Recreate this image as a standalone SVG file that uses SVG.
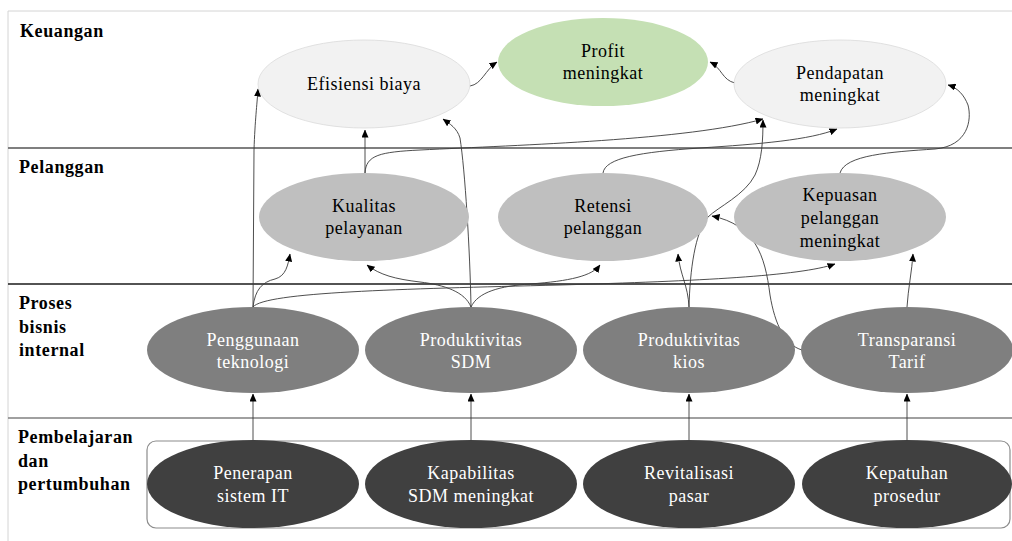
<svg xmlns="http://www.w3.org/2000/svg" width="1012" height="541" viewBox="0 0 1012 541">
<defs>
<marker id="ah" viewBox="0 0 8 7" refX="7.5" refY="3.5" markerWidth="8" markerHeight="7" markerUnits="userSpaceOnUse" orient="auto">
<path d="M0,0 L8,3.5 L0,7 z" fill="#000"/>
</marker>
<style>
.lbl{font-size:18px;font-weight:bold;fill:#000;letter-spacing:0.6px}
.t{font-size:18px;text-anchor:middle;letter-spacing:0.5px}
.dk{fill:#000}
.wt{fill:#fff}
.k{fill:#f2f2f2;stroke:#dadada;stroke-width:0.8}
.g{fill:#c5e0b4}
.p{fill:#bfbfbf}
.b{fill:#7f7f7f}
.l{fill:#404040}
.c{fill:none;stroke:#3a3a3a;stroke-width:0.9;marker-end:url(#ah)}
</style>
</defs>
<rect width="1012" height="541" fill="#fff"/>
<g id="frame" fill="none">
<line x1="8" y1="11" x2="1012" y2="11" stroke="#d4d4d4" stroke-width="1"/>
<line x1="8" y1="11" x2="8" y2="541" stroke="#d4d4d4" stroke-width="1"/>
<line x1="8" y1="148" x2="1012" y2="148" stroke="#7f7f7f" stroke-width="2"/>
<line x1="8" y1="284" x2="1012" y2="284" stroke="#1a1a1a" stroke-width="1.5"/>
<line x1="8" y1="418" x2="1012" y2="418" stroke="#808080" stroke-width="1.5"/>
<rect x="147" y="441" width="863" height="87" rx="9" fill="#fff" stroke="#8c8c8c" stroke-width="1.2"/>
</g>
<g id="labels" font-family="'Liberation Serif', 'DejaVu Serif', serif">
<text class="lbl" x="20" y="37">Keuangan</text>
<text class="lbl" x="19" y="173">Pelanggan</text>
<text class="lbl" x="19" y="309">Proses</text>
<text class="lbl" x="19" y="333">bisnis</text>
<text class="lbl" x="19" y="356">internal</text>
<text class="lbl" x="18" y="443">Pembelajaran</text>
<text class="lbl" x="18" y="467">dan</text>
<text class="lbl" x="18" y="490">pertumbuhan</text>
</g>
<g id="connectors">
<path class="c" d="M253,440 L253,394"/>
<path class="c" d="M471,440 L471,394"/>
<path class="c" d="M689,440 L689,394"/>
<path class="c" d="M907,440 L907,394"/>
<path class="c" d="M253,307 L254,150 C255,120 257,105 258,89"/>
<path class="c" d="M253,307 C255,290 262,282 275,279 C286,276 288,265 290,254"/>
<path class="c" d="M253,307 C265,292 400,289 560,285 C700,281 800,276 835,264"/>
<path class="c" d="M471,307 C470,250 465,170 460,138 C457,128 450,124 443,119"/>
<path class="c" d="M471,307 C465,292 445,285 420,282 C395,279 380,275 367,265"/>
<path class="c" d="M471,307 C478,292 500,286 530,284 C570,281 592,276 600,265"/>
<path class="c" d="M689,307 C688,285 680,275 678,254"/>
<path class="c" d="M689,307 C690,270 695,232 708,217 C718,207 745,195 755,175 C762,160 763,140 763,120"/>
<path class="c" d="M802,350 C785,345 775,325 770,295 C765,255 755,225 712,216"/>
<path class="c" d="M907,307 C908,290 912,270 913,254"/>
<path class="c" d="M365,173 L365,130"/>
<path class="c" d="M365,173 C366,155 380,152 420,150 C520,145 690,140 763,119"/>
<path class="c" d="M603,173 C605,158 640,152 700,148 C760,144 810,140 837,129"/>
<path class="c" d="M840,173 C845,155 890,152 935,149 C968,146 972,120 968,105 C964,95 958,88 948,85"/>
<path class="c" d="M470,86 C482,84 485,70 497,62"/>
<path class="c" d="M735,83 C722,80 722,68 710,62"/>
</g>
<g font-family="'Liberation Serif', 'DejaVu Serif', serif">
<g id="n-efisiensi"><ellipse class="k" cx="364" cy="84" rx="106" ry="44"/><text class="t dk" x="364" y="90">Efisiensi biaya</text></g>
<g id="n-profit"><ellipse class="g" cx="603" cy="62" rx="105" ry="44"/><text class="t dk" x="603" y="57">Profit</text><text class="t dk" x="603" y="79">meningkat</text></g>
<g id="n-pendapatan"><ellipse class="k" cx="840" cy="84" rx="106" ry="44"/><text class="t dk" x="840" y="79">Pendapatan</text><text class="t dk" x="840" y="101">meningkat</text></g>
<g id="n-kualitas"><ellipse class="p" cx="364" cy="217" rx="105" ry="44"/><text class="t dk" x="364" y="212">Kualitas</text><text class="t dk" x="364" y="234">pelayanan</text></g>
<g id="n-retensi"><ellipse class="p" cx="603" cy="217" rx="105" ry="44"/><text class="t dk" x="603" y="212">Retensi</text><text class="t dk" x="603" y="234">pelanggan</text></g>
<g id="n-kepuasan"><ellipse class="p" cx="840" cy="217" rx="106" ry="44"/><text class="t dk" x="840" y="201">Kepuasan</text><text class="t dk" x="840" y="224">pelanggan</text><text class="t dk" x="840" y="247">meningkat</text></g>
<g id="n-penggunaan"><ellipse class="b" cx="253" cy="350" rx="106" ry="43"/><text class="t wt" x="253" y="346">Penggunaan</text><text class="t wt" x="253" y="368">teknologi</text></g>
<g id="n-prodsdm"><ellipse class="b" cx="471" cy="350" rx="106" ry="43"/><text class="t wt" x="471" y="346">Produktivitas</text><text class="t wt" x="471" y="368">SDM</text></g>
<g id="n-prodkios"><ellipse class="b" cx="689" cy="350" rx="106" ry="43"/><text class="t wt" x="689" y="346">Produktivitas</text><text class="t wt" x="689" y="368">kios</text></g>
<g id="n-transparansi"><ellipse class="b" cx="907" cy="350" rx="106" ry="43"/><text class="t wt" x="907" y="346">Transparansi</text><text class="t wt" x="907" y="368">Tarif</text></g>
<g id="n-penerapan"><ellipse class="l" cx="253" cy="484" rx="106" ry="44"/><text class="t wt" x="253" y="479">Penerapan</text><text class="t wt" x="253" y="502">sistem IT</text></g>
<g id="n-kapabilitas"><ellipse class="l" cx="471" cy="484" rx="106" ry="44"/><text class="t wt" x="471" y="479">Kapabilitas</text><text class="t wt" x="471" y="502">SDM meningkat</text></g>
<g id="n-revitalisasi"><ellipse class="l" cx="689" cy="484" rx="106" ry="44"/><text class="t wt" x="689" y="479">Revitalisasi</text><text class="t wt" x="689" y="502">pasar</text></g>
<g id="n-kepatuhan"><ellipse class="l" cx="907" cy="484" rx="105" ry="44"/><text class="t wt" x="907" y="479">Kepatuhan</text><text class="t wt" x="907" y="502">prosedur</text></g>
</g>
</svg>
